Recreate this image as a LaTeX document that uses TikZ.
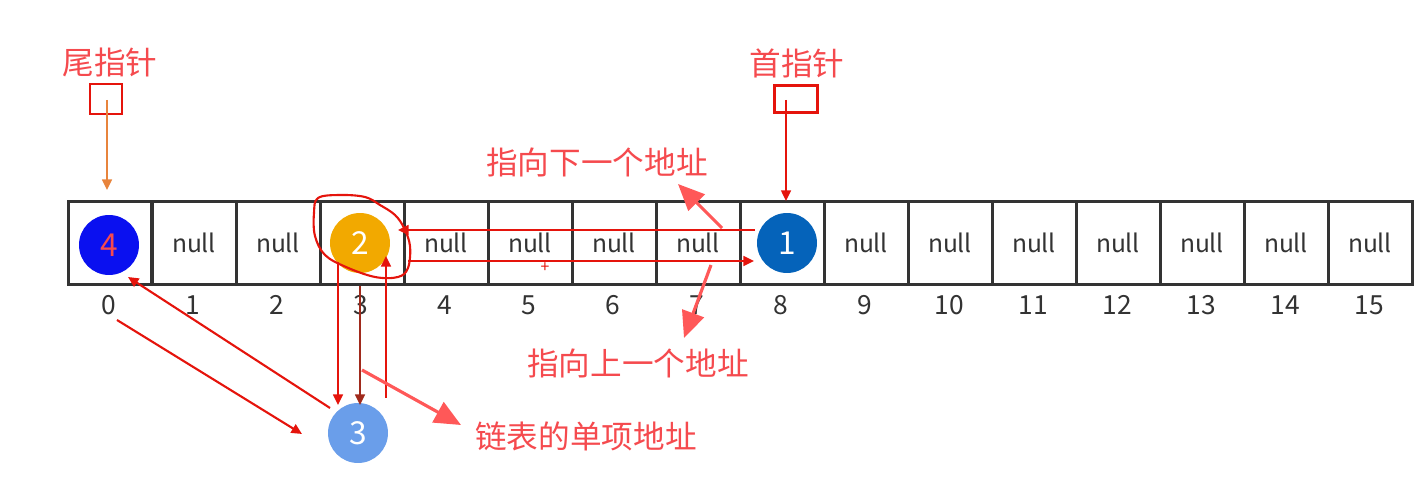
\documentclass[tikz,border=0pt]{standalone}
\usepackage{fontspec}
\setmainfont{Noto Sans CJK SC}
\usetikzlibrary{arrows.meta}
\definecolor{gridgray}{HTML}{333333}
\definecolor{notered}{HTML}{F54A4E}
\definecolor{linkred}{HTML}{E5140C}
\definecolor{darklink}{HTML}{A02A1C}
\definecolor{tailorange}{HTML}{E8843C}
\definecolor{fatpink}{HTML}{FF5858}
\begin{document}
\begin{tikzpicture}[x=0.02cm, y=-0.02cm, >={Triangle[length=6pt,width=5.5pt]},
  cell/.style={draw=gridgray, line width=1.7pt, minimum width=1.68cm, minimum height=1.66cm, inner sep=0pt},
  nulltxt/.style={text=gridgray, font=\fontsize{14}{15}\selectfont},
  idx/.style={text=gridgray, font=\fontsize{15}{16}\selectfont},
  ball/.style={circle, minimum size=1.2cm, inner sep=0pt, text=white, font=\fontsize{18}{19}\selectfont},
  note/.style={text=notered, font=\fontsize{18}{19}\selectfont},
  ptrbox/.style={draw=linkred, line width=1.4pt, inner sep=0pt},
  link/.style={draw=linkred, line width=1.2pt},
  fat/.style={draw=fatpink, line width=1.8pt, -{Triangle[length=15pt,width=13pt]}, fatpink}]
\useasboundingbox (0,0) rectangle (1420,482);
% the array
\foreach \i in {0,...,15}
  \node[cell] (c\i) at ({110+84*\i},243) {};
\foreach \i in {1,2,4,5,6,7,9,10,11,12,13,14,15}
  \node[nulltxt] (v\i) at (c\i) {null};
\foreach \i in {0,...,15}
  \node[idx] (n\i) at ({109+84*\i},305) {\i};
% list items
\node[ball, fill={rgb,255:red,10;green,16;blue,240}, text=notered] (b4) at (109,245) {4};
\node[ball, fill={rgb,255:red,242;green,169;blue,0}] (b2) at (360,243) {2};
\node[ball, fill={rgb,255:red,5;green,99;blue,186}] (b1) at (787,243) {1};
\node[ball, fill={rgb,255:red,106;green,158;blue,234}] (b3) at (358,433) {3};
% pointers
\node[note] (taillbl) at (110,62) {尾指针};
\node[ptrbox, minimum width=0.64cm, minimum height=0.6cm] (tail) at (106,99) {};
\node[note] (headlbl) at (797,63) {首指针};
\node[ptrbox, minimum width=0.86cm, minimum height=0.54cm] (head) at (796,99) {};
\coordinate (tailfrom) at (107,100);
\coordinate (tailto) at (107,190);
\coordinate (headfrom) at (786,100);
\coordinate (headto) at (786,201);
\draw[tailorange, line width=1.2pt, ->] (tailfrom) -- (tailto);
\draw[link, ->, linkred] (headfrom) -- (headto);
% links between 1 and 2
\coordinate (nxa) at (755,230);
\coordinate (nxb) at (398,230);
\coordinate (pva) at (408,261);
\coordinate (pvb) at (754,261);
\draw[link, ->, linkred] (nxa) -- (nxb);
\draw[link, ->, linkred] (pva) -- (pvb);
\draw[link] plot[smooth cycle, tension=0.6] coordinates {(318,198) (340,195) (365,197) (380,205) (395,215) (404,228) (410,246) (408,268) (398,277) (375,277) (346,267) (325,255) (315,236) (314,213)};
\node[text=linkred, font=\small] (plus) at (545,268) {+};
% links to 3
\coordinate (da) at (338,262);
\coordinate (db) at (338,405);
\coordinate (ea) at (360,286);
\coordinate (eb) at (360,405);
\coordinate (ua) at (386,398);
\coordinate (ub) at (386,256);
\draw[link, ->, linkred] (da) -- (db);
\draw[draw=darklink, line width=1.2pt, ->, darklink] (ea) -- (eb);
\draw[link, ->, linkred] (ua) -- (ub);
\coordinate (ga) at (330,408);
\coordinate (gb) at (128,277);
\coordinate (ha) at (117,320);
\coordinate (hb) at (302,434);
\draw[link, ->, linkred] (ga) -- (gb);
\draw[link, ->, linkred] (ha) -- (hb);
% notes
\node[note] (nextlbl) at (597,162) {指向下一个地址};
\node[note] (prevlbl) at (638,363) {指向上一个地址};
\node[note] (itemlbl) at (586,436) {链表的单项地址};
\coordinate (fa) at (722,228);
\coordinate (fb) at (678,184);
\coordinate (pa) at (711,265);
\coordinate (pb) at (684,338);
\coordinate (sa) at (362,370);
\coordinate (sb) at (461,425);
\draw[fat] (fa) -- (fb);
\draw[fat] (pa) -- (pb);
\draw[fat] (sa) -- (sb);
\end{tikzpicture}
\end{document}
